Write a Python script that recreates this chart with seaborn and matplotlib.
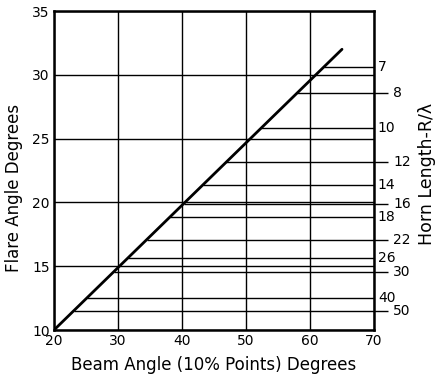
import matplotlib
matplotlib.use("Agg")
import matplotlib.pyplot as plt
import seaborn as sns
import numpy as np
import pandas as pd

# Data
beam_angle = [20, 65]
flare_angle = [10, 32]
horn_labels = ["7", "8", "10", "12", "14", "16", "18", "22", "26", "30", "40", "50"]
horn_flare = [30.6, 28.6, 25.8, 23.15, 21.35, 19.9, 18.83, 17.08, 15.64, 14.58, 12.49, 11.49]
x_ticks = [20, 30, 40, 50, 60, 70]
y_ticks = [10, 15, 20, 25, 30, 35]

sns.set_theme(style="white")
plt.rcParams['font.family'] = ['DejaVu Sans']
plt.rcParams['text.color'] = 'black'
plt.rcParams['axes.labelcolor'] = 'black'

fig = plt.figure(figsize=(4.36, 3.80), dpi=100)
ax = fig.add_axes([54/436, 50/380, 320/436, 319/380])

df = pd.DataFrame({"beam": beam_angle, "flare": flare_angle})
sns.lineplot(data=df, x="beam", y="flare", ax=ax, color="black", linewidth=2.0)

ax.set_xlim(20, 70)
ax.set_ylim(10, 35)
ax.set_xticks(x_ticks)
ax.set_yticks(y_ticks)
ax.set_xticklabels([str(t) for t in x_ticks], fontsize=10)
ax.set_yticklabels([str(t) for t in y_ticks], fontsize=10)
ax.grid(True, color="black", linewidth=1.0)
ax.tick_params(length=0, pad=3, colors="black", labelcolor="black")
for s in ax.spines.values():
    s.set_color("black")
    s.set_linewidth(1.8)

slope = (flare_angle[1] - flare_angle[0]) / (beam_angle[1] - beam_angle[0])
for i, (lab, yv) in enumerate(zip(horn_labels, horn_flare)):
    xstart = beam_angle[0] + (yv - flare_angle[0]) / slope
    extended = (i % 2 == 1)
    xend = 72.2 if extended else 70
    ax.hlines(yv, xstart, xend, color="black", linewidth=1.0, clip_on=False)
    xt = 73.0 if extended else 70.6
    ax.text(xt, yv, lab, ha="left", va="center", fontsize=10, color="black", clip_on=False)

ax.set_xlabel("Beam Angle (10% Points) Degrees", fontsize=12, color="black")
ax.set_ylabel("Flare Angle Degrees", fontsize=12, color="black")
ax.xaxis.set_label_coords(0.5, -0.082)
ax.yaxis.set_label_coords(-0.097, 0.445)
fig.text(427/436, 1 - 174/380, "Horn Length-R/λ", rotation=90, ha="center", va="center",
         fontsize=12.5, color="black")

fig.savefig("out.png", dpi=100)
